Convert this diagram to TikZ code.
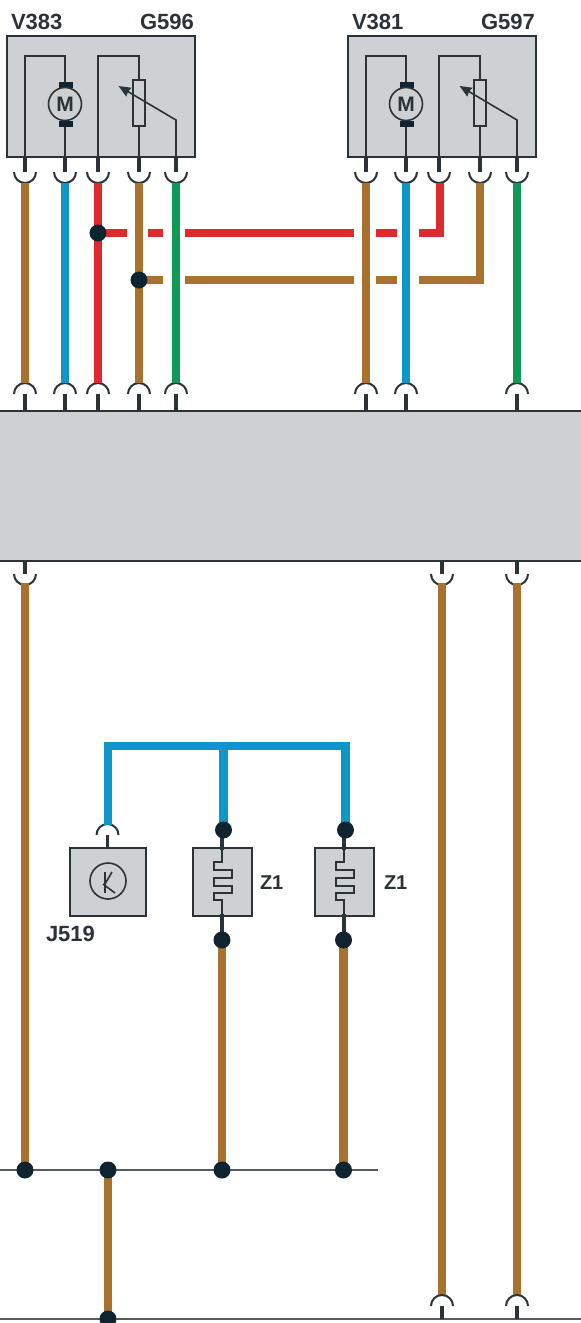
\documentclass[tikz,border=0pt]{standalone}
\usepackage{fontspec}
\setmainfont{Liberation Sans}
\usetikzlibrary{arrows.meta}
\definecolor{unitgrey}{HTML}{CDD1D4}
\definecolor{inkdark}{HTML}{2A3338}
\definecolor{dotdark}{HTML}{10242F}
\definecolor{earthline}{HTML}{555B60}
\definecolor{wirebrown}{HTML}{A8712E}
\definecolor{wireblue}{HTML}{0F96C8}
\definecolor{wirered}{HTML}{DC2A2E}
\definecolor{wiregreen}{HTML}{0C9A57}
\tikzset{
    unitbox/.style={draw=inkdark, fill=unitgrey, line width=1.6pt, inner sep=0pt, outer sep=0pt},
    inner/.style={draw=inkdark, line width=1.6pt},
    stub/.style={draw=inkdark, line width=3.6pt},
    cupline/.style={draw=inkdark, line width=2pt},
    wire/.style={line width=8.5pt, line join=miter},
    jdot/.style={circle, fill=dotdark, minimum size=17pt, inner sep=0pt, outer sep=0pt},
    lbl/.style={inner sep=0pt, outer sep=0pt, text=inkdark, font=\fontsize{22}{22}\selectfont\bfseries, anchor=base west},
    zlbl/.style={lbl, font=\fontsize{20}{20}\selectfont\bfseries},
}
% cup below a stub: x, y of the stub top, y of the stub end
\newcommand{\cupdown}[3]{
    \draw[stub] (#1,#2)--(#1,#3);
    \draw[cupline] (#1-11,#3) arc[start angle=180, end angle=360, radius=11pt];
}
% cup above a stub
\newcommand{\cupup}[3]{
    \draw[stub] (#1,#2)--(#1,#3);
    \draw[cupline] (#1-11,#3) arc[start angle=180, end angle=0, radius=11pt];
}

\begin{document}
\begin{tikzpicture}[x=1pt,y=-1pt]
\useasboundingbox (0,0) rectangle (581,1323);

% wire ends
\foreach \id/\px in {a/25,b/65,c/98,d/139,e/176,f/366,g/406,i/517}{
    \coordinate (top\id) at (\px,183);
    \coordinate (low\id) at (\px,383);
}
\coordinate (topr) at (440,183);
\coordinate (topk) at (480,183);
\coordinate (redjoin) at (440,233);
\coordinate (brownjoin) at (480,280);
\coordinate (outa) at (25,583);
\coordinate (outr) at (442,583);
\coordinate (outs) at (517,583);
\coordinate (endr) at (442,1295);
\coordinate (ends) at (517,1295);
\coordinate (buscorner) at (108,746);
\coordinate (busright) at (345.5,746);
\coordinate (busmid) at (223.5,746);
\coordinate (buscup) at (108,825);

% the two actuators
\foreach \dx/\mname/\gname in {0/V383/G596,341/V381/G597}{
\begin{scope}[xshift=\dx pt]
\node[unitbox, minimum width=188pt, minimum height=121pt] (unit\mname) at (101,96.5) {};
\draw[inner] (25,157)--(25,56)--(65,56)--(65,85);
\draw[inner] (65,124)--(65,157);
\fill[dotdark] (59,82) rectangle (73,88);
\fill[dotdark] (59,121) rectangle (73,127);
\node[circle, draw=inkdark, line width=1.6pt, fill=unitgrey, minimum size=33pt, inner sep=0pt, text=inkdark,
    font=\fontsize{21}{21}\selectfont\bfseries] (motor\mname) at (65,104) {M};
\draw[inner] (98,157)--(98,56)--(139,56)--(139,80);
\draw[inner] (139,126)--(139,157);
\draw[inner] (133,80) rectangle (145,126);
\draw[inner,-{Stealth[length=12pt,width=10pt,inset=1pt]}] (176,157)--(176,120)--(118.5,86);
\node[lbl] (name\mname) at (11,29) {\mname};
\node[lbl] (name\gname) at (140,29) {\gname};
\foreach \px in {25,65,98,139,176}{
    \cupdown{\px}{157}{172}
}
\end{scope}
}

% control unit
\node[unitbox, minimum width=585pt, minimum height=150pt] (ctrl) at (290.5,486) {};
\foreach \px in {25,65,98,139,176,366,406,517}{
    \cupup{\px}{411}{394}
}
\foreach \px in {25,442,517}{
    \cupdown{\px}{561}{574}
}

% wires top
\draw[wire,wirebrown] (topa)--(lowa);
\draw[wire,wireblue] (topb)--(lowb);
\draw[wire,wirered] (topc)--(lowc);
\draw[wire,wirebrown] (topd)--(lowd);
\draw[wire,wiregreen] (tope)--(lowe);
\draw[wire,wirebrown] (topf)--(lowf);
\draw[wire,wireblue] (topg)--(lowg);
\draw[wire,wiregreen] (topi)--(lowi);

% cross links, broken at the crossings
\coordinate (redtap) at (98,233);
\coordinate (browntap) at (139,280);
\draw[wire,wirered] (redtap)--(127,233);
\draw[wire,wirered] (148,233)--(163,233);
\draw[wire,wirered] (185,233)--(354,233);
\draw[wire,wirered] (376,233)--(397,233);
\draw[wire,wirered] (419,233)--(redjoin)--(topr);
\draw[wire,wirebrown] (browntap)--(163,280);
\draw[wire,wirebrown] (185,280)--(354,280);
\draw[wire,wirebrown] (376,280)--(397,280);
\draw[wire,wirebrown] (419,280)--(brownjoin)--(topk);

% J519
\node[unitbox, minimum width=76pt, minimum height=68pt] (junit) at (108,882) {};
\node[circle, draw=inkdark, line width=1.6pt, minimum size=36pt, inner sep=0pt] (jsym) at (108,881) {};
\draw[inner] (105,872)--(105,893);
\draw[inner] (105,884)--(112,872);
\draw[inner] (103,884)--(115,893);
\cupup{107.5}{848}{835}
\node[lbl] (namej) at (46,941) {J519};

% fuses
\foreach \dx/\id/\zx in {0/A/260,122/B/262}{
\begin{scope}[xshift=\dx pt]
\node[unitbox, minimum width=59pt, minimum height=68pt] (fuse\id) at (222.5,882) {};
\draw[inner] (222,848)--(222,862)--(214,862)--(214,870)--(232,870)--(232,878)--(214,878)--(214,886)--(232,886)--(232,893)--(214,893)--(214,900)--(222,900)--(222,916);
\draw[stub] (222,830)--(222,850);
\draw[stub] (222,914)--(222,940);
\node[zlbl] (namez\id) at (\zx,889) {Z1};
\end{scope}
}

% bus lines
\draw[earthline, line width=1.8pt] (0,1170)--(378,1170);
\draw[earthline, line width=2.5pt] (0,1319)--(581,1319);
\coordinate (bluea) at (223.5,830);
\coordinate (blueb) at (345.5,830);
\coordinate (fusea) at (222,940);
\coordinate (fuseb) at (343.5,940);
\coordinate (earthw) at (25,1170);
\coordinate (earthx) at (108,1170);
\coordinate (earthy) at (222,1170);
\coordinate (earthz) at (343.5,1170);
\coordinate (earthm) at (108,1319);

\draw[wire,wireblue] (buscup)--(buscorner)--(busright)--(blueb);
\draw[wire,wireblue] (busmid)--(bluea);
\draw[wire,wirebrown] (outa)--(earthw);
\draw[wire,wirebrown] (outr)--(endr);
\draw[wire,wirebrown] (outs)--(ends);
\draw[wire,wirebrown] (fusea)--(earthy);
\draw[wire,wirebrown] (fuseb)--(earthz);
\draw[wire,wirebrown] (earthx)--(earthm);
% the dots go over the wire ends
\foreach \n in {redtap,browntap,bluea,blueb,fusea,fuseb,earthw,earthx,earthy,earthz,earthm}{
    \node[jdot] (dot\n) at (\n) {};
}
\cupup{442}{1319}{1306}
\cupup{517}{1319}{1306}

\end{tikzpicture}
\end{document}
